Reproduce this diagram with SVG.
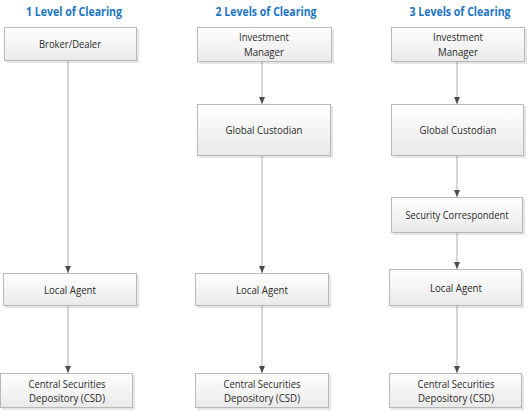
<svg xmlns="http://www.w3.org/2000/svg" width="528" height="411" viewBox="0 0 528 411">
<style>
.title{font-family:"Open Sans","Liberation Sans",sans-serif;font-weight:bold;font-size:13px;fill:#1b75c4;text-anchor:middle}
.lbl{font-family:"Open Sans","Liberation Sans",sans-serif;font-size:11px;fill:#2b2b2b;text-anchor:middle}
.box{fill:url(#g);stroke:#b8b8b8;stroke-width:1}
.sh{fill:#000;opacity:0.10}
.con{stroke:#c9c9c9;stroke-width:1.5;fill:none}
</style>
<defs>
<linearGradient id="g" x1="0" y1="0" x2="0" y2="1">
<stop offset="0" stop-color="#ffffff"/>
<stop offset="1" stop-color="#e9e9e9"/>
</linearGradient>
<marker id="ah" viewBox="0 0 7 6" refX="7" refY="3" markerWidth="7" markerHeight="6" markerUnits="userSpaceOnUse" orient="auto">
<path d="M0,0 L7,3 L0,6 z" fill="#4a4a4a"/>
</marker>
</defs>
<text class="title" x="74" y="16" textLength="96" lengthAdjust="spacingAndGlyphs">1 Level of Clearing</text>
<text class="title" x="266" y="16" textLength="101" lengthAdjust="spacingAndGlyphs">2 Levels of Clearing</text>
<text class="title" x="460" y="16" textLength="101" lengthAdjust="spacingAndGlyphs">3 Levels of Clearing</text>
<g id="connectors">
<line class="con" x1="68" y1="61" x2="68" y2="273" marker-end="url(#ah)"/>
<line class="con" x1="68" y1="306" x2="68" y2="373" marker-end="url(#ah)"/>
<line class="con" x1="262" y1="62" x2="262" y2="104" marker-end="url(#ah)"/>
<line class="con" x1="262" y1="156" x2="262" y2="273" marker-end="url(#ah)"/>
<line class="con" x1="262" y1="306" x2="262" y2="373" marker-end="url(#ah)"/>
<line class="con" x1="457" y1="62" x2="457" y2="104" marker-end="url(#ah)"/>
<line class="con" x1="457" y1="156" x2="457" y2="197" marker-end="url(#ah)"/>
<line class="con" x1="457" y1="233" x2="457" y2="269" marker-end="url(#ah)"/>
<line class="con" x1="457" y1="306" x2="457" y2="373" marker-end="url(#ah)"/>
</g>
<g id="c1-broker">
<rect class="sh" x="6" y="29" width="133" height="34"/>
<rect class="box" x="4.5" y="27.5" width="132" height="33"/>
<text class="lbl" x="70" y="48" textLength="62" lengthAdjust="spacingAndGlyphs">Broker/Dealer</text>
</g>
<g id="c1-local">
<rect class="sh" x="5" y="275" width="134" height="33"/>
<rect class="box" x="3.5" y="273.5" width="133" height="32"/>
<text class="lbl" x="70" y="294" textLength="52" lengthAdjust="spacingAndGlyphs">Local Agent</text>
</g>
<g id="c1-csd">
<rect class="sh" x="2" y="375" width="133" height="35"/>
<rect class="box" x="0.5" y="373.5" width="132" height="34"/>
<text class="lbl" x="67" y="388" textLength="77" lengthAdjust="spacingAndGlyphs">Central Securities</text>
<text class="lbl" x="67" y="402" textLength="76" lengthAdjust="spacingAndGlyphs">Depository (CSD)</text>
</g>
<g id="c2-im">
<rect class="sh" x="199" y="29" width="135" height="35"/>
<rect class="box" x="197.5" y="27.5" width="134" height="34"/>
<text class="lbl" x="264" y="41" textLength="50" lengthAdjust="spacingAndGlyphs">Investment</text>
<text class="lbl" x="264" y="56" textLength="40" lengthAdjust="spacingAndGlyphs">Manager</text>
</g>
<g id="c2-gc">
<rect class="sh" x="199" y="106" width="134" height="52"/>
<rect class="box" x="197.5" y="104.5" width="133" height="51"/>
<text class="lbl" x="264" y="134" textLength="77" lengthAdjust="spacingAndGlyphs">Global Custodian</text>
</g>
<g id="c2-local">
<rect class="sh" x="197" y="275" width="134" height="33"/>
<rect class="box" x="195.5" y="273.5" width="133" height="32"/>
<text class="lbl" x="262" y="294" textLength="52" lengthAdjust="spacingAndGlyphs">Local Agent</text>
</g>
<g id="c2-csd">
<rect class="sh" x="197" y="375" width="134" height="35"/>
<rect class="box" x="195.5" y="373.5" width="133" height="34"/>
<text class="lbl" x="262" y="388" textLength="77" lengthAdjust="spacingAndGlyphs">Central Securities</text>
<text class="lbl" x="262" y="402" textLength="76" lengthAdjust="spacingAndGlyphs">Depository (CSD)</text>
</g>
<g id="c3-im">
<rect class="sh" x="393" y="29" width="134" height="35"/>
<rect class="box" x="391.5" y="27.5" width="133" height="34"/>
<text class="lbl" x="458" y="41" textLength="50" lengthAdjust="spacingAndGlyphs">Investment</text>
<text class="lbl" x="458" y="56" textLength="40" lengthAdjust="spacingAndGlyphs">Manager</text>
</g>
<g id="c3-gc">
<rect class="sh" x="393" y="106" width="133" height="52"/>
<rect class="box" x="391.5" y="104.5" width="132" height="51"/>
<text class="lbl" x="458" y="134" textLength="77" lengthAdjust="spacingAndGlyphs">Global Custodian</text>
</g>
<g id="c3-sc">
<rect class="sh" x="393" y="199" width="132" height="36"/>
<rect class="box" x="391.5" y="197.5" width="131" height="35"/>
<text class="lbl" x="457" y="219" textLength="103" lengthAdjust="spacingAndGlyphs">Security Correspondent</text>
</g>
<g id="c3-local">
<rect class="sh" x="391" y="271" width="133" height="37"/>
<rect class="box" x="389.5" y="269.5" width="132" height="36"/>
<text class="lbl" x="456" y="292" textLength="52" lengthAdjust="spacingAndGlyphs">Local Agent</text>
</g>
<g id="c3-csd">
<rect class="sh" x="391" y="375" width="133" height="35"/>
<rect class="box" x="389.5" y="373.5" width="132" height="34"/>
<text class="lbl" x="456" y="388" textLength="77" lengthAdjust="spacingAndGlyphs">Central Securities</text>
<text class="lbl" x="456" y="402" textLength="76" lengthAdjust="spacingAndGlyphs">Depository (CSD)</text>
</g>
</svg>
